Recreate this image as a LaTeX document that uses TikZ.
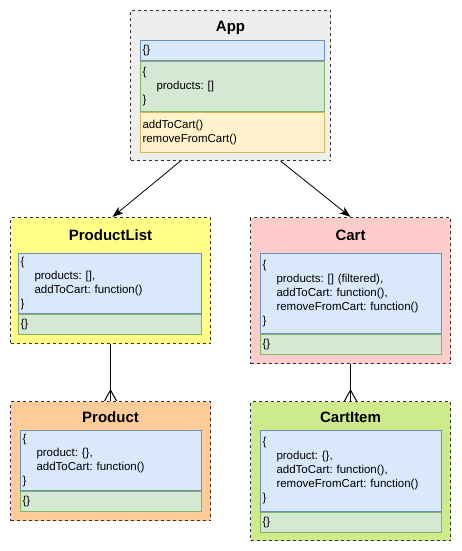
\documentclass[tikz,border=0pt]{standalone}
\usepackage{fontspec}
\setmainfont{Liberation Sans}
\usetikzlibrary{positioning,arrows.meta}
\definecolor{boxline}{HTML}{333333}
\definecolor{appfill}{HTML}{EEEEEE}
\definecolor{listfill}{HTML}{FFFF88}
\definecolor{cartfill}{HTML}{FFCCCC}
\definecolor{prodfill}{HTML}{FFCC99}
\definecolor{itemfill}{HTML}{CDEB8B}
\definecolor{propfill}{HTML}{DAE8FC}
\definecolor{propline}{HTML}{6C8EBF}
\definecolor{statefill}{HTML}{D5E8D4}
\definecolor{stateline}{HTML}{82B366}
\definecolor{methfill}{HTML}{FFF2CC}
\definecolor{methline}{HTML}{D6B656}
\begin{document}
\begin{tikzpicture}[
		x=1pt, y=-1pt,
		comp/.style={draw=boxline, line width=1pt, dash pattern=on 3pt off 3pt,
				anchor=north west, minimum width=200pt, inner sep=0pt},
		title/.style={anchor=base, font=\fontsize{15}{18}\selectfont\bfseries},
		sect/.style={line width=1pt, anchor=north west, text width=#1,
				inner xsep=2pt, inner ysep=0pt, align=left,
				font=\fontsize{11.5}{14}\selectfont\frenchspacing},
		props/.style={sect=#1, fill=propfill, draw=propline},
		state/.style={sect=#1, fill=statefill, draw=stateline},
		meth/.style={sect=#1, fill=methfill, draw=methline},
		arr/.style={-{Stealth[length=11pt,width=8pt,inset=3pt]}, line width=0.8pt}
	]
	\useasboundingbox (0,0) rectangle (461,551);

	\node[comp, fill=appfill, minimum height=150pt] (app) at (130,10) {};
	\node[title] (apptitle) at ([yshift=-22pt]app.north) {App};
	\node[props=180pt, minimum height=20pt] (appprops) at (140,40) {\{\}};
	\node[state=180pt, minimum height=50pt, below=0pt of appprops] (appstate)
	{\{\\\hspace*{14pt}products: []\\\}};
	\node[meth=180pt, minimum height=40pt, below=0pt of appstate] (appmeth)
	{addToCart()\\removeFromCart()};

	\node[comp, fill=listfill, minimum height=126pt] (plist) at (10,217) {};
	\node[title] (plisttitle) at ([yshift=-23pt]plist.north) {ProductList};
	\node[props=179pt, minimum height=60pt] (plistprops) at (18,253)
	{\{\\\hspace*{14pt}products: [],\\\hspace*{14pt}addToCart: function()\\\}};
	\node[state=179pt, minimum height=20pt, below=0pt of plistprops] (pliststate) {\{\}};

	\node[comp, fill=cartfill, minimum height=146pt] (cart) at (250,217) {};
	\node[title] (carttitle) at ([yshift=-23pt]cart.north) {Cart};
	\node[props=177pt, minimum height=80pt] (cartprops) at (260,253)
	{\{\\\hspace*{14pt}products: [] (filtered),\\\hspace*{14pt}addToCart: function(),\\\hspace*{14pt}removeFromCart: function()\\\}};
	\node[state=177pt, minimum height=20pt, below=0pt of cartprops] (cartstate) {\{\}};

	\node[comp, fill=prodfill, minimum height=119pt] (prod) at (10,401) {};
	\node[title] (prodtitle) at ([yshift=-21pt]prod.north) {Product};
	\node[props=177pt, minimum height=60pt] (prodprops) at (20,430)
	{\{\\\hspace*{14pt}product: \{\},\\\hspace*{14pt}addToCart: function()\\\}};
	\node[state=177pt, minimum height=20pt, below=0pt of prodprops] (prodstate) {\{\}};

	\node[comp, fill=itemfill, minimum height=139pt] (item) at (250,401) {};
	\node[title] (itemtitle) at ([yshift=-21pt]item.north) {CartItem};
	\node[props=177pt, minimum height=81pt] (itemprops) at (260,430)
	{\{\\\hspace*{14pt}product: \{\},\\\hspace*{14pt}addToCart: function(),\\\hspace*{14pt}removeFromCart: function()\\\}};
	\node[state=177pt, minimum height=20pt, below=0pt of itemprops] (itemstate) {\{\}};

	\draw[arr] ([xshift=-50pt]app.south) -- ([xshift=2pt]plist.north);
	\draw[arr] ([xshift=50pt]app.south) -- (cart.north);

	\draw[line width=1pt] (plist.south) -- (prod.north);
	\draw[line width=1pt] ([xshift=-6pt]prod.north) -- ([yshift=11pt]prod.north) -- ([xshift=6pt]prod.north);
	\draw[line width=1pt] (cart.south) -- (item.north);
	\draw[line width=1pt] ([xshift=-6pt]item.north) -- ([yshift=11pt]item.north) -- ([xshift=6pt]item.north);
\end{tikzpicture}
\end{document}
